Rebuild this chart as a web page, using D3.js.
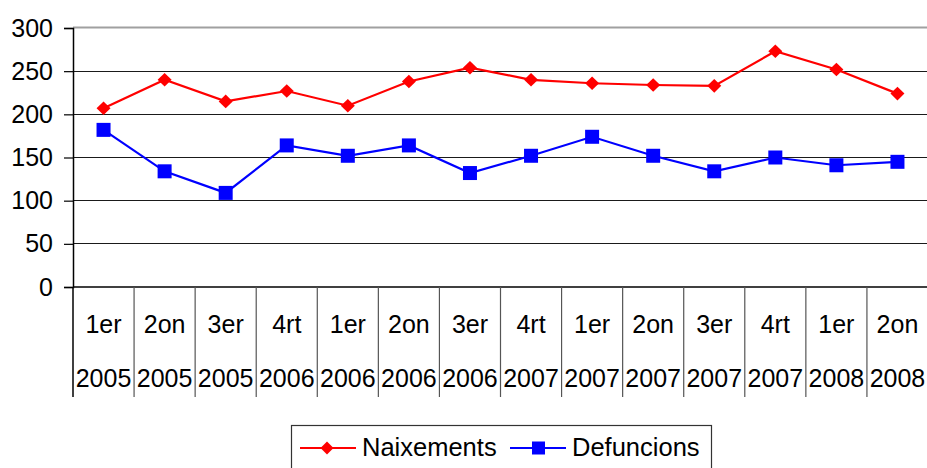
<!DOCTYPE html>
<html>
<head>
<meta charset="utf-8">
<script src="https://cdn.jsdelivr.net/npm/d3@7"></script>
<style>
  html, body { margin: 0; padding: 0; background: #fff; }
  svg { display: block; }
  text { font-family: Arial, "Liberation Sans", sans-serif; fill: #000; }
</style>
</head>
<body>
<svg id="chart" width="927" height="468"></svg>
<script>
const quarters = ["1er","2on","3er","4rt","1er","2on","3er","4rt","1er","2on","3er","4rt","1er","2on"];
const years = ["2005","2005","2005","2006","2006","2006","2006","2007","2007","2007","2007","2007","2008","2008"];
const naixements = [207, 240, 215, 227, 210, 238, 254, 240, 236, 234, 233, 273, 252, 224];
const defuncions = [182, 134, 109, 164, 152, 164, 132, 152, 174, 152, 134, 150, 141, 145];
const yTicks = [0, 50, 100, 150, 200, 250, 300];
const seriesNames = ["Naixements", "Defuncions"];

(function () {
const svg = d3.select("#chart");
const pLeft = 73, pRight = 928, pTop = 28, pBottom = 287, catBottom = 397;
const idx = d3.range(quarters.length);

const x = d3.scaleBand().domain(idx).range([pLeft, pRight]).paddingInner(0).paddingOuter(0);
const y = d3.scaleLinear().domain([0, 300]).range([pBottom, pTop]);

// gridlines
svg.append("g").selectAll("line").data(yTicks.filter(d => d > 0 && d < 300)).join("line")
  .attr("x1", pLeft).attr("x2", pRight)
  .attr("y1", d => y(d)).attr("y2", d => y(d))
  .attr("stroke", "#1a1a1a").attr("stroke-width", 1).attr("shape-rendering", "crispEdges");

// top border (plot area)
svg.append("line").attr("x1", pLeft).attr("x2", pRight).attr("y1", y(300) - 0.5).attr("y2", y(300) - 0.5)
  .attr("stroke", "#a0a0a0").attr("stroke-width", 2);

// y axis
const yAxis = d3.axisLeft(y).tickValues(yTicks).tickSize(9).tickPadding(11).tickFormat(d3.format("d"));
const gy = svg.append("g").attr("transform", `translate(${pLeft},0)`).call(yAxis);
gy.select(".domain").attr("stroke", "#000").attr("stroke-width", 1.5);
gy.selectAll(".tick line").attr("stroke", "#000").attr("stroke-width", 1.2);
gy.selectAll(".tick text").attr("font-size", 25).attr("dy", null).attr("y", 8)
  .style("font-family", "Arial, 'Liberation Sans', sans-serif").attr("fill", "#000");

// x axis line at 0
svg.append("line").attr("x1", pLeft).attr("x2", pRight).attr("y1", y(0)).attr("y2", y(0))
  .attr("stroke", "#000").attr("stroke-width", 1.5);

// category dividers
const dividers = idx.map(i => x(i)).concat([pRight]);
svg.append("g").selectAll("line").data(dividers).join("line")
  .attr("x1", d => d).attr("x2", d => d)
  .attr("y1", y(0)).attr("y2", catBottom)
  .attr("stroke", (d, i) => i === 0 ? "#000" : "#555").attr("stroke-width", (d, i) => i === 0 ? 1.5 : 1.2);

// category labels
svg.append("g").selectAll("text").data(idx).join("text")
  .attr("x", i => x(i) + x.bandwidth() / 2).attr("y", 333)
  .attr("text-anchor", "middle").attr("font-size", 25)
  .text(i => quarters[i]);
svg.append("g").selectAll("text").data(idx).join("text")
  .attr("x", i => x(i) + x.bandwidth() / 2).attr("y", 387)
  .attr("text-anchor", "middle").attr("font-size", 25)
  .text(i => years[i]);

const cx = i => x(i) + x.bandwidth() / 2;
const line = d3.line().x((d, i) => cx(i)).y(d => y(d));
const diamondPath = (w, h) => `M0,${-h}L${w},0L0,${h}L${-w},0Z`;

// Naixements
svg.append("path").datum(naixements).attr("d", line)
  .attr("fill", "none").attr("stroke", "#ff0000").attr("stroke-width", 2.2);
svg.append("g").selectAll("path").data(naixements).join("path")
  .attr("transform", (d, i) => `translate(${cx(i)},${y(d)})`)
  .attr("d", diamondPath(7, 6.8)).attr("fill", "#ff0000");

// Defuncions
svg.append("path").datum(defuncions).attr("d", line)
  .attr("fill", "none").attr("stroke", "#0000ff").attr("stroke-width", 2.2);
svg.append("g").selectAll("rect").data(defuncions).join("rect")
  .attr("x", (d, i) => cx(i) - 7).attr("y", d => y(d) - 7)
  .attr("width", 14).attr("height", 14).attr("fill", "#0000ff");

// legend
const lg = svg.append("g");
lg.append("rect").attr("x", 291.5).attr("y", 425.5).attr("width", 420).attr("height", 50)
  .attr("fill", "#fff").attr("stroke", "#333").attr("stroke-width", 1.2);
const ly = 448;
lg.append("line").attr("x1", 300).attr("x2", 356).attr("y1", ly).attr("y2", ly)
  .attr("stroke", "#ff0000").attr("stroke-width", 2);
lg.append("path").attr("transform", `translate(327,${ly})`).attr("d", diamondPath(6.5, 6.5)).attr("fill", "#ff0000");
lg.append("text").attr("x", 362).attr("y", 456).attr("font-size", 25.5).text(seriesNames[0]);
lg.append("line").attr("x1", 510).attr("x2", 566).attr("y1", ly).attr("y2", ly)
  .attr("stroke", "#0000ff").attr("stroke-width", 2);
lg.append("rect").attr("x", 532).attr("y", ly - 6.5).attr("width", 13).attr("height", 13).attr("fill", "#0000ff");
lg.append("text").attr("x", 572).attr("y", 456).attr("font-size", 25.5).text(seriesNames[1]);
})();
</script>
</body>
</html>
